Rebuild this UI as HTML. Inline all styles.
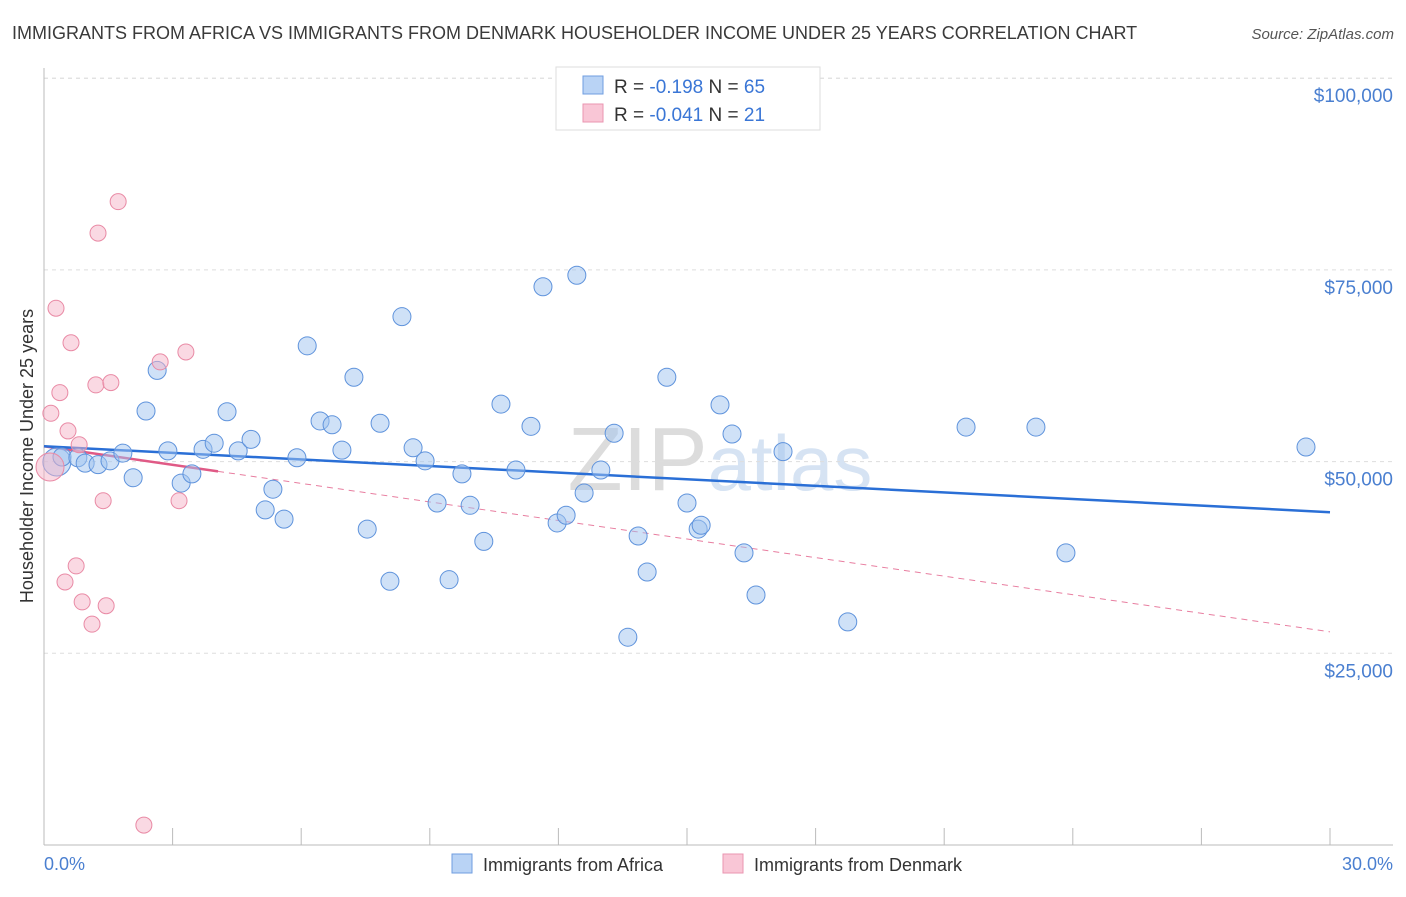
<!DOCTYPE html>
<html><head><meta charset="utf-8"><style>
body{margin:0;background:#fff;font-family:"Liberation Sans",sans-serif;}
svg text{font-family:"Liberation Sans",sans-serif;}
</style></head><body>
<svg id="chart" width="1406" height="892" xmlns="http://www.w3.org/2000/svg">
<text x="12" y="39" font-size="18" fill="#3a3a3a">IMMIGRANTS FROM AFRICA VS IMMIGRANTS FROM DENMARK HOUSEHOLDER INCOME UNDER 25 YEARS CORRELATION CHART</text>
<text x="1394" y="39" font-size="15" fill="#555" font-style="italic" text-anchor="end">Source: ZipAtlas.com</text>
<text x="720" y="490" font-size="90" fill="#e4e4e4" text-anchor="middle" font-family="Liberation Serif"><tspan fill="#dcdcdc">ZIP</tspan><tspan fill="#d6e3f3" font-family="Liberation Sans" font-size="78">atlas</tspan></text>
<g id="grid"></g><g id="axes"></g><g id="trends"></g><g id="points"></g>
<text transform="translate(33,456) rotate(-90)" font-size="18" fill="#333" text-anchor="middle">Householder Income Under 25 years</text>
<text x="44" y="870" font-size="18" fill="#4a7fd0">0.0%</text>
<text x="1393" y="870" font-size="18" fill="#4a7fd0" text-anchor="end">30.0%</text>
<g>
<rect x="556" y="67" width="264" height="63" fill="#fff" stroke="#ddd"/>
<rect x="583" y="76" width="20" height="18" fill="#b9d3f5" stroke="#6f9ee0"/>
<rect x="583" y="104" width="20" height="18" fill="#f9c6d6" stroke="#ea95b0"/>
<text x="614" y="93" font-size="19" fill="#333">R = <tspan fill="#3a76d6">-0.198</tspan>   N = <tspan fill="#3a76d6">65</tspan></text>
<text x="614" y="121" font-size="19" fill="#333">R = <tspan fill="#3a76d6">-0.041</tspan>   N = <tspan fill="#3a76d6"> 21</tspan></text>
</g>
<g>
<rect x="452" y="854" width="20" height="19" fill="#b9d3f5" stroke="#6f9ee0"/>
<text x="483" y="871" font-size="18" fill="#333">Immigrants from Africa</text>
<rect x="723" y="854" width="20" height="19" fill="#f9c6d6" stroke="#ea95b0"/>
<text x="754" y="871" font-size="18" fill="#333">Immigrants from Denmark</text>
</g>
</svg>
<script>
const yTicks=[25000,50000,75000,100000];
const yTickLabels=["$25,000","$50,000","$75,000","$100,000"];
const africaX=[0.30,0.42,0.79,0.96,1.26,1.54,1.84,2.08,2.38,2.64,2.89,3.20,3.45,3.71,3.97,4.27,4.53,4.83,5.16,5.34,5.60,5.90,6.14,6.44,6.72,6.95,7.23,7.54,7.84,8.07,8.35,8.61,8.89,9.17,9.45,9.75,9.94,10.26,10.66,11.01,11.36,11.64,11.97,12.18,12.43,12.60,12.99,13.30,13.62,13.86,14.07,14.53,15.00,15.26,15.33,15.77,16.05,16.33,16.61,17.24,18.75,21.51,23.14,23.84,29.44];
const africaY=[49.95,50.6,50.5,49.8,49.6,50.1,51.1,47.9,56.6,61.9,51.4,47.2,48.4,51.6,52.4,56.5,51.4,52.9,43.7,46.4,42.5,50.5,65.1,55.3,54.8,51.5,61.0,41.2,55.0,34.4,68.9,51.8,50.1,44.6,34.6,48.4,44.3,39.6,57.5,48.9,54.6,72.8,42.0,43.0,74.3,45.9,48.9,53.7,27.1,40.3,35.6,61.0,44.6,41.2,41.7,57.4,53.6,38.1,32.6,51.3,29.1,54.5,54.5,38.1,51.9];
const denmarkX=[0.14,0.16,0.28,0.37,0.56,0.63,0.75,0.49,0.82,0.89,1.12,1.21,1.26,1.38,1.45,1.56,1.73,2.33,2.71,3.15,3.31];
const denmarkY=[49.3,56.3,70.0,59.0,54.0,65.5,36.4,34.3,52.2,31.7,28.8,60.0,79.8,44.9,31.2,60.3,83.9,2.6,63.0,44.9,64.3];
const africaTrend=[52.0,43.4];
const denmarkTrend=[52.0,27.8];
const denmarkSolidEnd=4.06;

const NS="http://www.w3.org/2000/svg";
const X=p=>44+p*(1330-44)/30;
const Y=v=>845-v*191.7/25000;
function mk(parent,tag,attrs){const e=document.createElementNS(NS,tag);for(const k in attrs)e.setAttribute(k,attrs[k]);document.getElementById(parent).appendChild(e);return e;}
yTicks.forEach((t,i)=>{
 const l=mk('grid','line',{x1:44,x2:1393,y1:Y(t),y2:Y(t),stroke:'#ddd','stroke-dasharray':'4,4'});
 
 
 const tx=mk('grid','text',{x:1393,y:Y(t)+24,'font-size':19,fill:'#4a7fd0','text-anchor':'end'});
 tx.textContent=yTickLabels[i];
 
 
});
const topL=mk('grid','line',{x1:44,x2:1393,y1:Y(100000),y2:Y(100000),stroke:'#ddd','stroke-dasharray':'4,4'});


const ya=mk('axes','line',{x1:44,x2:44,y1:68,y2:845,stroke:'#bbb'});


const xa=mk('axes','line',{x1:44,x2:1393,y1:845,y2:845,stroke:'#bbb'});


for(let k=1;k<=10;k++){
 const t=mk('axes','line',{x1:X(k*3),x2:X(k*3),y1:828,y2:845,stroke:'#bbb'});
 
 
}
africaX.forEach((x,i)=>{
 const c=mk('points','circle',{cx:X(x),cy:Y(africaY[i]*1000),r:i==0?14:9,fill:'rgba(160,196,240,0.5)',stroke:'#5f93dc','stroke-width':1});
 
 
});
denmarkX.forEach((x,i)=>{
 const c=mk('points','circle',{cx:X(x),cy:Y(denmarkY[i]*1000),r:i==0?14:8,fill:'rgba(245,180,200,0.5)',stroke:'#e98aa5','stroke-width':1});
 
 
});
const dAt=p=>denmarkTrend[0]+(denmarkTrend[1]-denmarkTrend[0])*p/30;
const dd=mk('trends','line',{x1:X(denmarkSolidEnd),y1:Y(dAt(denmarkSolidEnd)*1000),x2:X(30),y2:Y(denmarkTrend[1]*1000),stroke:'#e87ea0','stroke-width':1,'stroke-dasharray':'6,5'});


const ds=mk('trends','line',{x1:X(0),y1:Y(denmarkTrend[0]*1000),x2:X(denmarkSolidEnd),y2:Y(dAt(denmarkSolidEnd)*1000),stroke:'#e05a86','stroke-width':2.5});


const at=mk('trends','line',{x1:X(0),y1:Y(africaTrend[0]*1000),x2:X(30),y2:Y(africaTrend[1]*1000),stroke:'#2a6fd6','stroke-width':2.5});


</script>
</body></html>
